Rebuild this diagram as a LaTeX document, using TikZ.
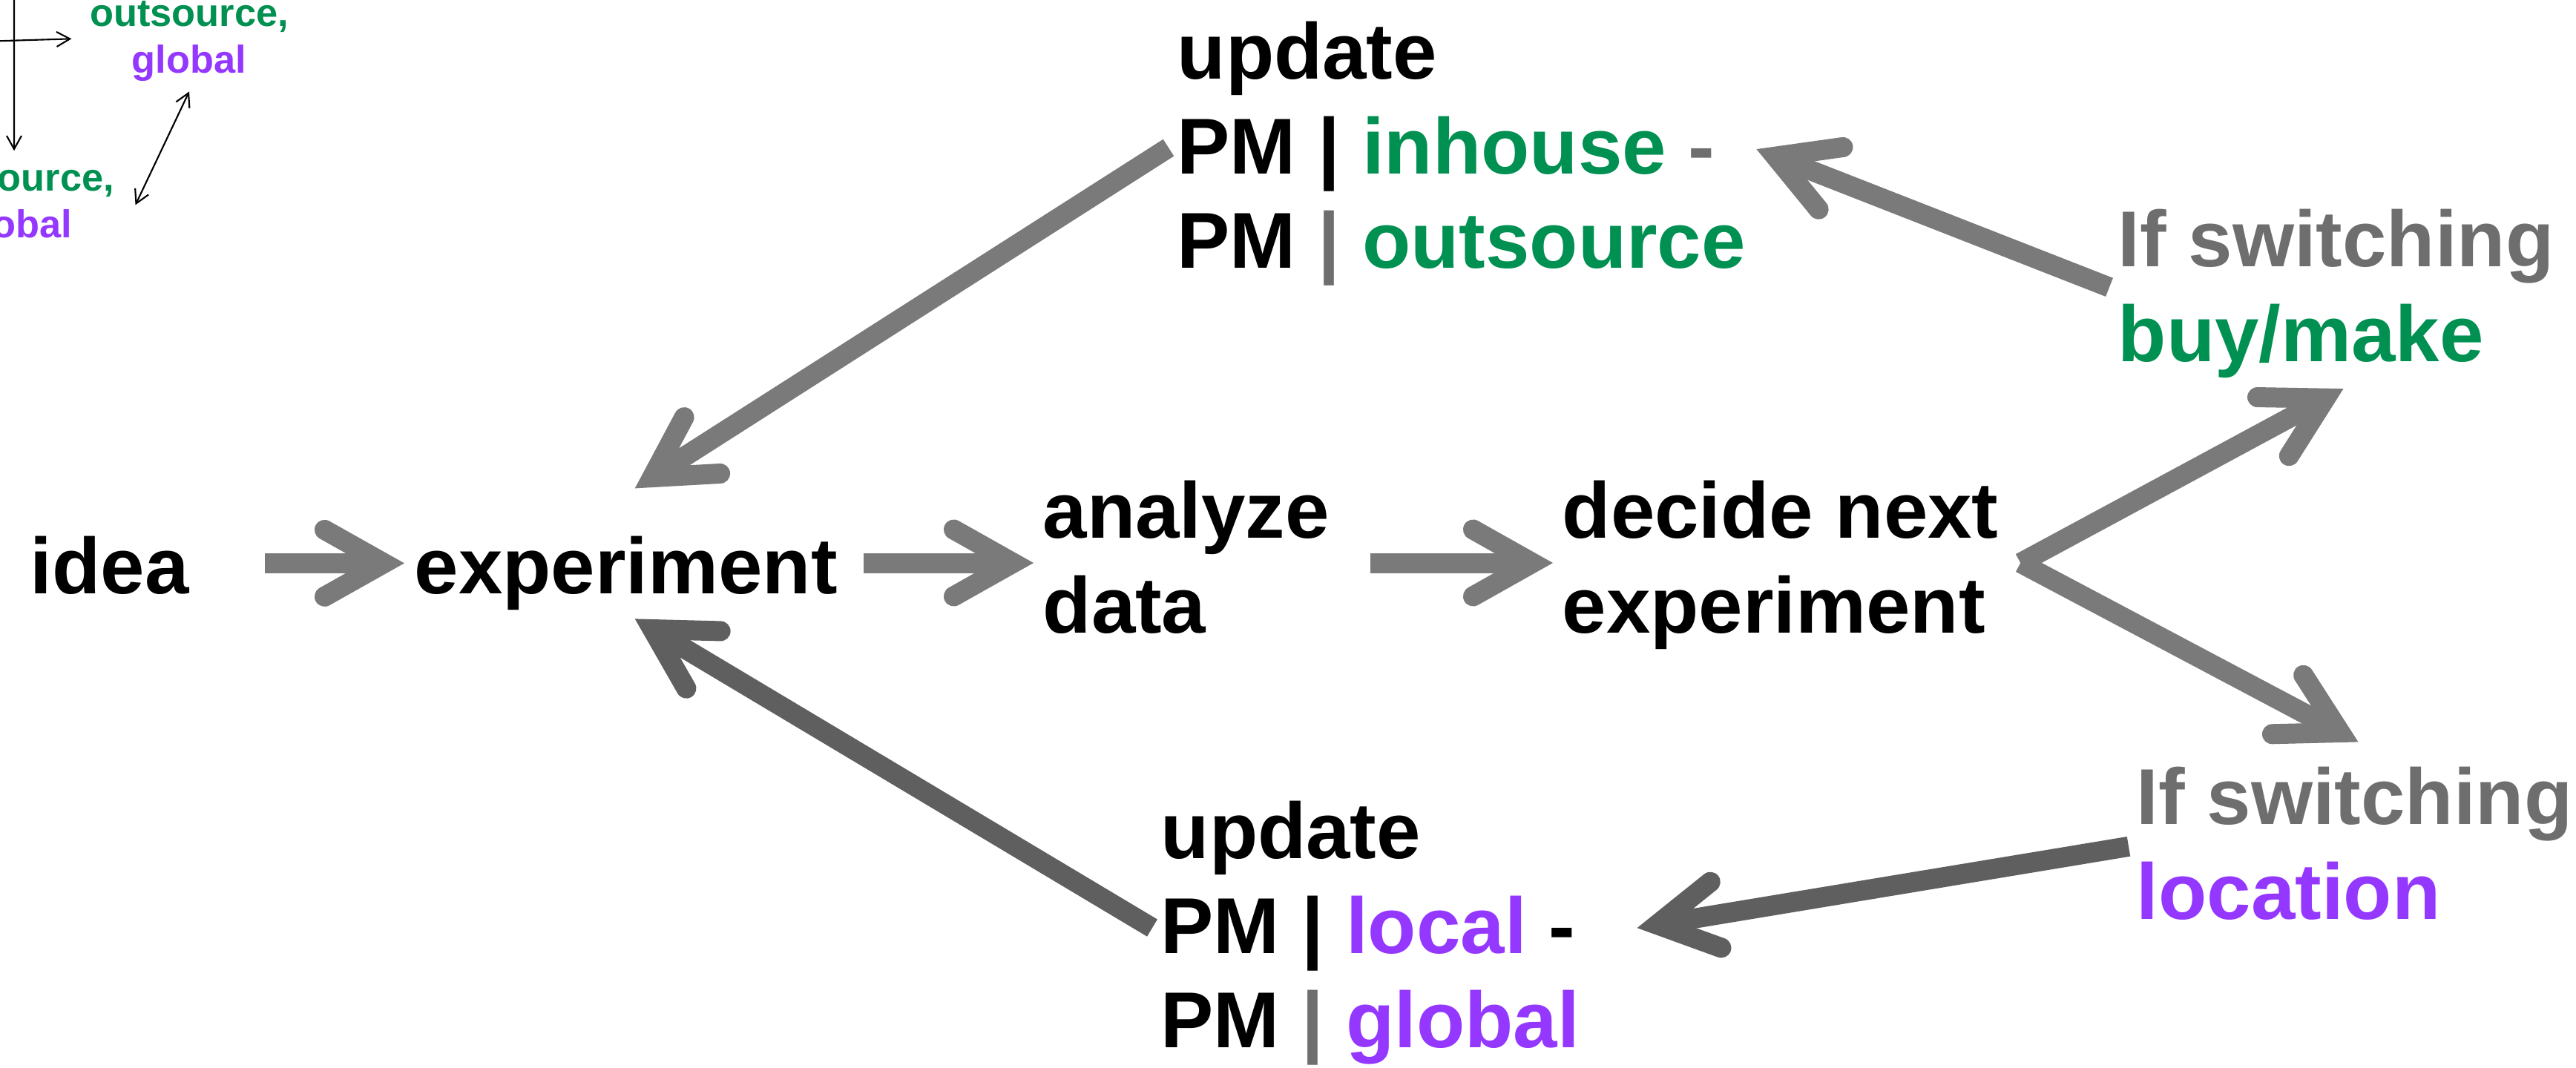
\documentclass[tikz,border=0pt]{standalone}
\usepackage{fontspec}
\setmainfont{Liberation Sans}
\usetikzlibrary{arrows.meta}
\definecolor{buygreen}{RGB}{0,144,81}
\definecolor{locpurple}{RGB}{148,55,255}
\definecolor{txtgray}{RGB}{110,110,110}
\definecolor{arrgray}{RGB}{122,122,122}
\definecolor{arrdark}{RGB}{95,95,95}
\newcommand{\bigfont}{\fontsize{30.4pt}{36.3pt}\selectfont\bfseries}
\newcommand{\smallfont}{\fontsize{14.9pt}{18.1pt}\selectfont\bfseries}

\begin{document}
\begin{tikzpicture}[
        lbl/.style={inner sep=0pt, anchor=north west, align=left, font=\bigfont,
            execute at begin node=\strut, execute at end node=\strut},
        note/.style={inner sep=0pt, anchor=north, align=center, font=\smallfont,
            execute at begin node=\strut, execute at end node=\strut},
        flow/.style={line width=0.27cm,
            -{Straight Barb[length=0.8cm, width=0.9cm, line cap=round, line join=miter]}},
        pointer/.style={line width=0.6pt}
    ]
    \useasboundingbox (0,0) rectangle (34.72,14.39);
    \clip (0,0) rectangle (34.72,14.39);

    \node[lbl] (idea) at (0.40,7.286) {idea};
    \node[lbl] (experiment) at (5.58,7.286) {experiment};
    \node[lbl] (analyze) at (14.05,7.916) {analyze\\data};
    \node[lbl] (decide) at (21.05,7.916) {decide next\\experiment};
    \node[lbl] (inhouse) at (15.86,14.106) {update\\PM | \textcolor{buygreen}{inhouse} \textcolor{txtgray}{-}\\PM \textcolor{txtgray}{|} \textcolor{buygreen}{outsource}};
    \node[lbl] (local) at (15.64,3.596) {update\\PM | \textcolor{locpurple}{local} -\\PM \textcolor{txtgray}{|} \textcolor{locpurple}{global}};
    \node[lbl] (buymake) at (28.54,11.576) {\textcolor{txtgray}{If switching}\\\textcolor{buygreen}{buy/make}};
    \node[lbl] (location) at (28.79,4.056) {\textcolor{txtgray}{If switching}\\\textcolor{locpurple}{location}};

    \node[note] (ogright) at (2.55,14.388) {\textcolor{buygreen}{outsource,}\\\textcolor{locpurple}{global}};
    \node[note] (ogdown) at (0.20,12.168) {\textcolor{buygreen}{outsource,}\\\textcolor{locpurple}{global}};
    \coordinate (srcdown) at (0.19,15.0);
    \coordinate (srcright) at (-0.6,13.82);

    \draw[pointer, -{Straight Barb[length=0.18cm, width=0.2cm]}] (srcdown) -- ([shift={(-0.01,0.19)}]ogdown.north);
    \draw[pointer, -{Straight Barb[length=0.18cm, width=0.2cm]}] (srcright) -- ([shift={(-0.24,0.07)}]ogright.west);
    \draw[pointer, {Straight Barb[length=0.18cm, width=0.2cm]}-{Straight Barb[length=0.18cm, width=0.2cm]}]
        ([yshift=-0.05cm]ogright.south) -- ([shift={(0.28,0.05)}]ogdown.east);

    \foreach \a/\ax/\ay/\b/\bx/\by/\c in {
        idea.east/1.02/0.155/experiment.west/-0.13/0.155/arrgray,
        experiment.north east/0.35/-0.486/analyze.north west/-0.12/-1.116/arrgray,
        analyze.north east/0.55/-1.116/decide.north west/-0.12/-1.116/arrgray,
        decide.north east/0.29/-1.116/buymake.south/0.10/0.02/arrgray,
        decide.north east/0.29/-1.116/location.north/0.05/0.33/arrgray,
        buymake.west/-0.11/0.164/inhouse.east/0.14/0.134/arrgray,
        inhouse.west/-0.11/0.154/experiment.north/0.12/0.52/arrgray,
        local.west/-0.11/0.144/experiment.south/0.12/0.05/arrdark,
        location.west/-0.10/0.144/local.east/0.77/0.144/arrdark} {
        \draw[flow, draw=\c] ([xshift=\ax cm, yshift=\ay cm]\a) -- ([xshift=\bx cm, yshift=\by cm]\b);
    }
\end{tikzpicture}
\end{document}
